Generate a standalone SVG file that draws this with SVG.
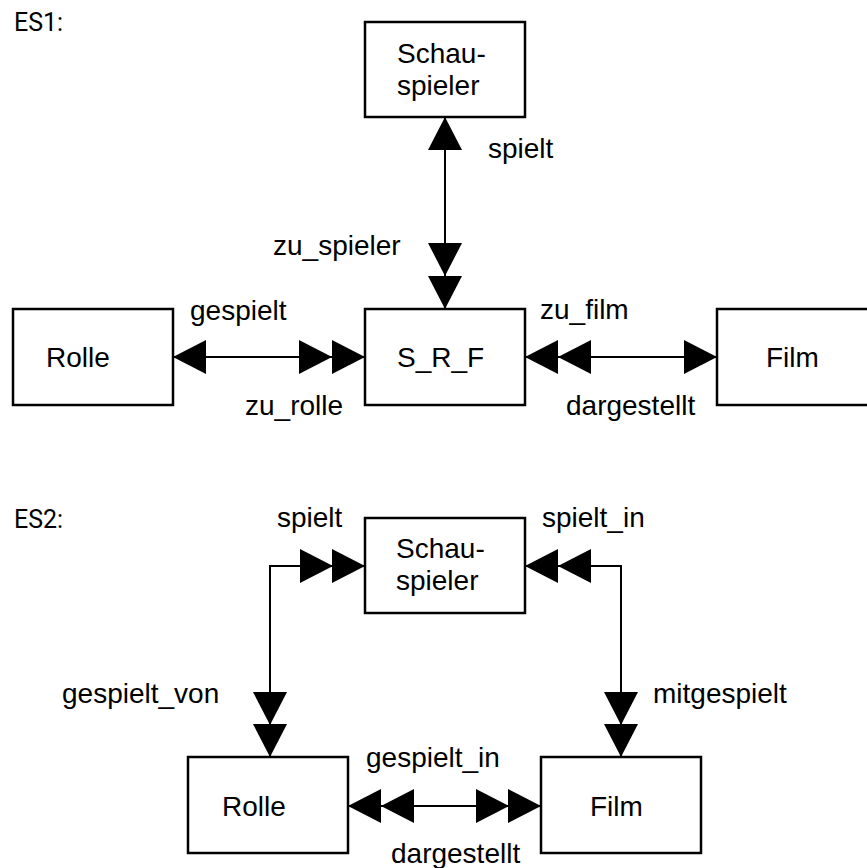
<svg xmlns="http://www.w3.org/2000/svg" width="867" height="868" viewBox="0 0 867 868">
  <style>
    .box { fill: #fff; stroke: #000; stroke-width: 2.5; }
    .edge { fill: none; stroke: #000; stroke-width: 2; }
    .head { fill: #000; stroke: none; }
    text { font-family: "Liberation Sans", Arial, sans-serif; font-size: 28px; fill: #000; }
    .title { font-family: Roboto, "Liberation Sans", sans-serif; font-size: 25px; }
  </style>
  <defs>
    <!-- filled arrowhead, tip at origin, pointing right -->
    <path id="tri" class="head" d="M0,0 L-33,-17 L-33,17 Z"/>
  </defs>
  <rect width="867" height="868" fill="#fff"/>

  <text class="title" x="14" y="31">ES1:</text>
  <text class="title" x="14" y="528">ES2:</text>

  <!-- ES1 nodes -->
  <g id="es1-schauspieler">
    <rect class="box" x="365" y="22" width="160" height="95"/>
    <text x="397" y="63">Schau-</text>
    <text x="397" y="95">spieler</text>
  </g>
  <g id="es1-rolle">
    <rect class="box" x="13" y="309" width="160" height="96"/>
    <text x="46" y="367">Rolle</text>
  </g>
  <g id="es1-srf">
    <rect class="box" x="365" y="309" width="160" height="96"/>
    <text x="397" y="367">S_R_F</text>
  </g>
  <g id="es1-film">
    <rect class="box" x="717" y="309" width="170" height="96"/>
    <text x="766" y="367">Film</text>
  </g>

  <!-- ES2 nodes -->
  <g id="es2-schauspieler">
    <rect class="box" x="365" y="518" width="160" height="95"/>
    <text x="396" y="558">Schau-</text>
    <text x="396" y="590">spieler</text>
  </g>
  <g id="es2-rolle">
    <rect class="box" x="188" y="757" width="160" height="96"/>
    <text x="222" y="816">Rolle</text>
  </g>
  <g id="es2-film">
    <rect class="box" x="541" y="757" width="160" height="96"/>
    <text x="590" y="816">Film</text>
  </g>

  <g id="connectors">
    <!-- ES1: Schauspieler - S_R_F -->
    <line class="edge" x1="445" y1="117" x2="445" y2="309"/>
    <use href="#tri" transform="translate(445,117) rotate(-90)"/>
    <use href="#tri" transform="translate(445,276) rotate(90)"/>
    <use href="#tri" transform="translate(445,309) rotate(90)"/>
    <!-- ES1: Rolle - S_R_F -->
    <line class="edge" x1="173" y1="357" x2="365" y2="357"/>
    <use href="#tri" transform="translate(173,357) rotate(180)"/>
    <use href="#tri" transform="translate(332,357)"/>
    <use href="#tri" transform="translate(365,357)"/>
    <!-- ES1: S_R_F - Film -->
    <line class="edge" x1="525" y1="357" x2="717" y2="357"/>
    <use href="#tri" transform="translate(525,357) rotate(180)"/>
    <use href="#tri" transform="translate(558,357) rotate(180)"/>
    <use href="#tri" transform="translate(717,357)"/>

    <!-- ES2: Schauspieler - Rolle -->
    <polyline class="edge" points="365,566 270,566 270,757"/>
    <use href="#tri" transform="translate(333,566)"/>
    <use href="#tri" transform="translate(365,566)"/>
    <use href="#tri" transform="translate(270,725) rotate(90)"/>
    <use href="#tri" transform="translate(270,757) rotate(90)"/>
    <!-- ES2: Schauspieler - Film -->
    <polyline class="edge" points="525,566 621,566 621,757"/>
    <use href="#tri" transform="translate(525,566) rotate(180)"/>
    <use href="#tri" transform="translate(558,566) rotate(180)"/>
    <use href="#tri" transform="translate(621,725) rotate(90)"/>
    <use href="#tri" transform="translate(621,757) rotate(90)"/>
    <!-- ES2: Rolle - Film -->
    <line class="edge" x1="348" y1="806" x2="541" y2="806"/>
    <use href="#tri" transform="translate(348,806) rotate(180)"/>
    <use href="#tri" transform="translate(381,806) rotate(180)"/>
    <use href="#tri" transform="translate(509,806)"/>
    <use href="#tri" transform="translate(541,806)"/>
  </g>

  <g id="labels">
    <text x="488" y="158">spielt</text>
    <text x="273" y="255">zu_spieler</text>
    <text x="190" y="320">gespielt</text>
    <text x="245" y="415">zu_rolle</text>
    <text x="540" y="319">zu_film</text>
    <text x="566" y="415">dargestellt</text>

    <text x="277" y="527">spielt</text>
    <text x="542" y="527">spielt_in</text>
    <text x="62" y="703">gespielt_von</text>
    <text x="653" y="703">mitgespielt</text>
    <text x="366" y="767">gespielt_in</text>
    <text x="391" y="863">dargestellt</text>
  </g>
</svg>
